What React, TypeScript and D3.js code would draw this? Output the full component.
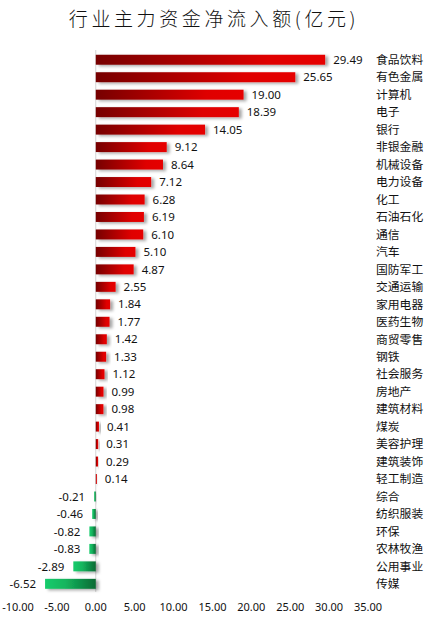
import React from "react";
import * as d3 from "d3";

const categories = ["食品饮料","有色金属","计算机","电子","银行","非银金融","机械设备","电力设备","化工","石油石化","通信","汽车","国防军工","交通运输","家用电器","医药生物","商贸零售","钢铁","社会服务","房地产","建筑材料","煤炭","美容护理","建筑装饰","轻工制造","综合","纺织服装","环保","农林牧渔","公用事业","传媒"];
const values = [29.49,25.65,19.00,18.39,14.05,9.12,8.64,7.12,6.28,6.19,6.10,5.10,4.87,2.55,1.84,1.77,1.42,1.33,1.12,0.99,0.98,0.41,0.31,0.29,0.14,-0.21,-0.46,-0.82,-0.83,-2.89,-6.52];
const ticks = [-10,-5,0,5,10,15,20,25,30,35];
const title = "行业主力资金净流入额(亿元)";

const W = 429, H = 624;

export default function App() {
  const x = d3.scaleLinear().domain([-10, 35]).range([18, 368]);
  const y = d3.scaleBand<string>().domain(categories).range([51, 51 + 31 * 17.47]).paddingInner(0.43).paddingOuter(0.215);
  const bh = y.bandwidth();
  const font = "'Noto Sans', 'Noto Sans CJK SC', sans-serif";
  return (
    <svg width={W} height={H} style={{ position: "absolute", left: 0, top: 0, background: "#fff" }}>
      <defs>
        <linearGradient id="gRed" x1="0" x2="1" y1="0" y2="0">
          <stop offset="0" stopColor="#760000" />
          <stop offset="0.75" stopColor="#df0000" />
          <stop offset="1" stopColor="#e60000" />
        </linearGradient>
        <linearGradient id="gGreen" x1="0" x2="1" y1="0" y2="0">
          <stop offset="0" stopColor="#18cc6c" />
          <stop offset="0.4" stopColor="#14b55e" />
          <stop offset="1" stopColor="#0a6a34" />
        </linearGradient>
        <filter id="sh" x="-20%" y="-50%" width="160%" height="250%">
          <feDropShadow dx="3" dy="1.5" stdDeviation="1.6" floodColor="#000" floodOpacity="0.35" />
        </filter>
      </defs>
      <text x={214} y={26} textAnchor="middle" fontFamily="'Noto Sans CJK SC', sans-serif" fontWeight={300} fontSize={19} letterSpacing={3.6} fill="#111">{title}</text>
      <line x1={x(0)} x2={x(0)} y1={50} y2={592} stroke="#d4d4d4" strokeWidth={1} />
      {categories.map((c, i) => {
        const v = values[i];
        const y0 = y(c)!;
        const x0 = Math.min(x(0), x(v));
        const w = Math.abs(x(v) - x(0));
        const cy = y0 + bh / 2;
        return (
          <g key={c}>
            <rect x={x0} y={y0} width={w} height={bh} fill={v >= 0 ? "url(#gRed)" : "url(#gGreen)"} filter="url(#sh)" />
            <text x={v >= 0 ? x(v) + 8 : x(v) - 9} y={cy} dy="0.36em" textAnchor={v >= 0 ? "start" : "end"} fontFamily={font} fontSize={11.5} fill="#111">{v.toFixed(2)}</text>
            <text x={376} y={cy} dy="0.36em" fontFamily="'Noto Sans CJK SC', sans-serif" fontSize={11.8} fill="#111">{c}</text>
          </g>
        );
      })}
      {ticks.map(t => (
        <text key={t} x={x(t)} y={607} dy="0.36em" textAnchor="middle" fontFamily={font} fontSize={11} fill="#111">{t.toFixed(2)}</text>
      ))}
    </svg>
  );
}
